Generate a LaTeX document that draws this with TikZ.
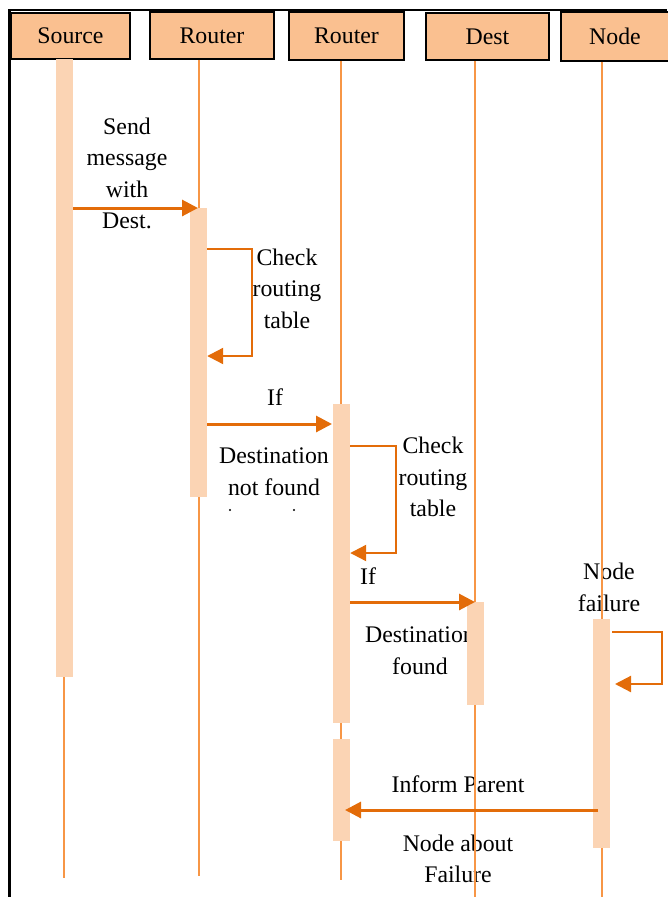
\documentclass[tikz,border=0pt]{standalone}
\usepackage{fontspec}
\setmainfont{Liberation Serif}
\usetikzlibrary{arrows.meta}
\definecolor{hdrfill}{HTML}{FAC090}
\definecolor{barfill}{HTML}{FBD4B4}
\definecolor{lifeclr}{HTML}{F79646}
\definecolor{msgclr}{HTML}{E36C09}

\begin{document}
\begin{tikzpicture}[x=1pt,y=-1pt,
  hdr/.style={draw=black, line width=1.5pt, fill=hdrfill, inner sep=0pt,
              font=\fontsize{23.8}{28}\selectfont},
  lifeline/.style={draw=lifeclr, line width=1.7pt},
  actbar/.style={fill=barfill, draw=none, inner sep=0pt, minimum width=17pt},
  msg/.style={draw=msgclr, line width=3pt,
              -{Triangle[length=16pt,width=16pt]}},
  selfmsg/.style={msg, line width=2.2pt},
  lbl/.style={align=center, inner sep=0pt,
              font=\fontsize{23.8}{31.6}\selectfont}]

\useasboundingbox (0,0) rectangle (667,897);

% frame lines
\draw[line width=2.5pt] (8,10) -- (667,10);
\draw[line width=2.5pt] (9.5,9) -- (9.5,897);

% message and step labels
\node[lbl] (tsend) at (127,173.5) {Send\\message\\with\\Dest.};
\node[lbl] (tchk1) at (287,288.5) {Check\\routing\\table};
\node[lbl, anchor=base] (tif1) at (275,405) {If};
\node[lbl] (tnf) at (274,472) {Destination\\not found};
\fill (230,510) circle (1.1);
\fill (294,510) circle (1.1);
\node[lbl] (tchk2) at (433,477) {Check\\routing\\table};
\node[lbl, anchor=base] (tif2) at (368,584) {If};
\node[lbl] (tfound) at (420,651) {Destination\\found};
\node[lbl] (tfail) at (609,587.5) {Node\\failure};
\node[lbl, anchor=base] (tinf) at (458,792) {Inform Parent};
\node[lbl] (tabout) at (458,859) {Node about\\Failure};

% headers
\node[hdr, minimum width=119pt, minimum height=46pt] (hsrc) at (70.5,36) {Source};
\node[hdr, minimum width=124pt, minimum height=47pt] (hr1) at (212,35.5) {Router};
\node[hdr, minimum width=115pt, minimum height=48pt] (hr2) at (346.5,36) {Router};
\node[hdr, minimum width=123pt, minimum height=47pt] (hdst) at (487.5,36.5) {Dest};
\node[hdr, minimum width=108pt, minimum height=49pt] (hnode) at (615,36.5) {Node};

% lifelines
\coordinate (esrc) at (64,878);
\coordinate (er1) at (199,876);
\coordinate (er2) at (341,880);
\coordinate (edst) at (475,897);
\coordinate (enode) at (602,897);
\draw[lifeline] (esrc |- hsrc.south) -- (esrc);
\draw[lifeline] (er1 |- hr1.south) -- (er1);
\draw[lifeline] (er2 |- hr2.south) -- (er2);
\draw[lifeline] (edst |- hdst.south) -- (edst);
\draw[lifeline] (enode |- hnode.south) -- (enode);

% activation bars
\node[actbar, minimum height=618pt] (bsrc) at (64.5,368) {};
\node[actbar, minimum height=289pt] (br1) at (198.5,352.5) {};
\node[actbar, minimum height=319pt] (br2a) at (341.5,563.5) {};
\node[actbar, minimum height=102pt] (br2b) at (341.5,790) {};
\node[actbar, minimum height=103pt] (bdst) at (475.5,653.5) {};
\node[actbar, minimum height=229pt] (bnode) at (601.5,733.5) {};

% messages
\coordinate (m1) at (198,208);
\draw[msg] (m1 -| bsrc.east) -- (m1);

\coordinate (l1a) at (252,249);
\coordinate (l1b) at (252,356);
\draw[selfmsg] (l1a -| br1.east) -- (l1a) -- (l1b) -- (l1b -| br1.east);

\coordinate (m2) at (332,424);
\draw[msg] (m2 -| br1.east) -- (m2);

\coordinate (l2a) at (396,446);
\coordinate (l2b) at (396,553);
\draw[selfmsg] (l2a -| br2a.east) -- (l2a) -- (l2b) -- (l2b -| br2a.east);

\coordinate (m3) at (475,602);
\draw[msg] (m3 -| br2a.east) -- (m3);

\coordinate (l3s) at (612,632);
\coordinate (l3a) at (662,632);
\coordinate (l3b) at (662,684);
\coordinate (l3e) at (615,684);
\draw[selfmsg] (l3s) -- (l3a) -- (l3b) -- (l3e);

\coordinate (m4s) at (598,810);
\coordinate (m4e) at (345,810);
\draw[msg] (m4s) -- (m4e);
\end{tikzpicture}
\end{document}
